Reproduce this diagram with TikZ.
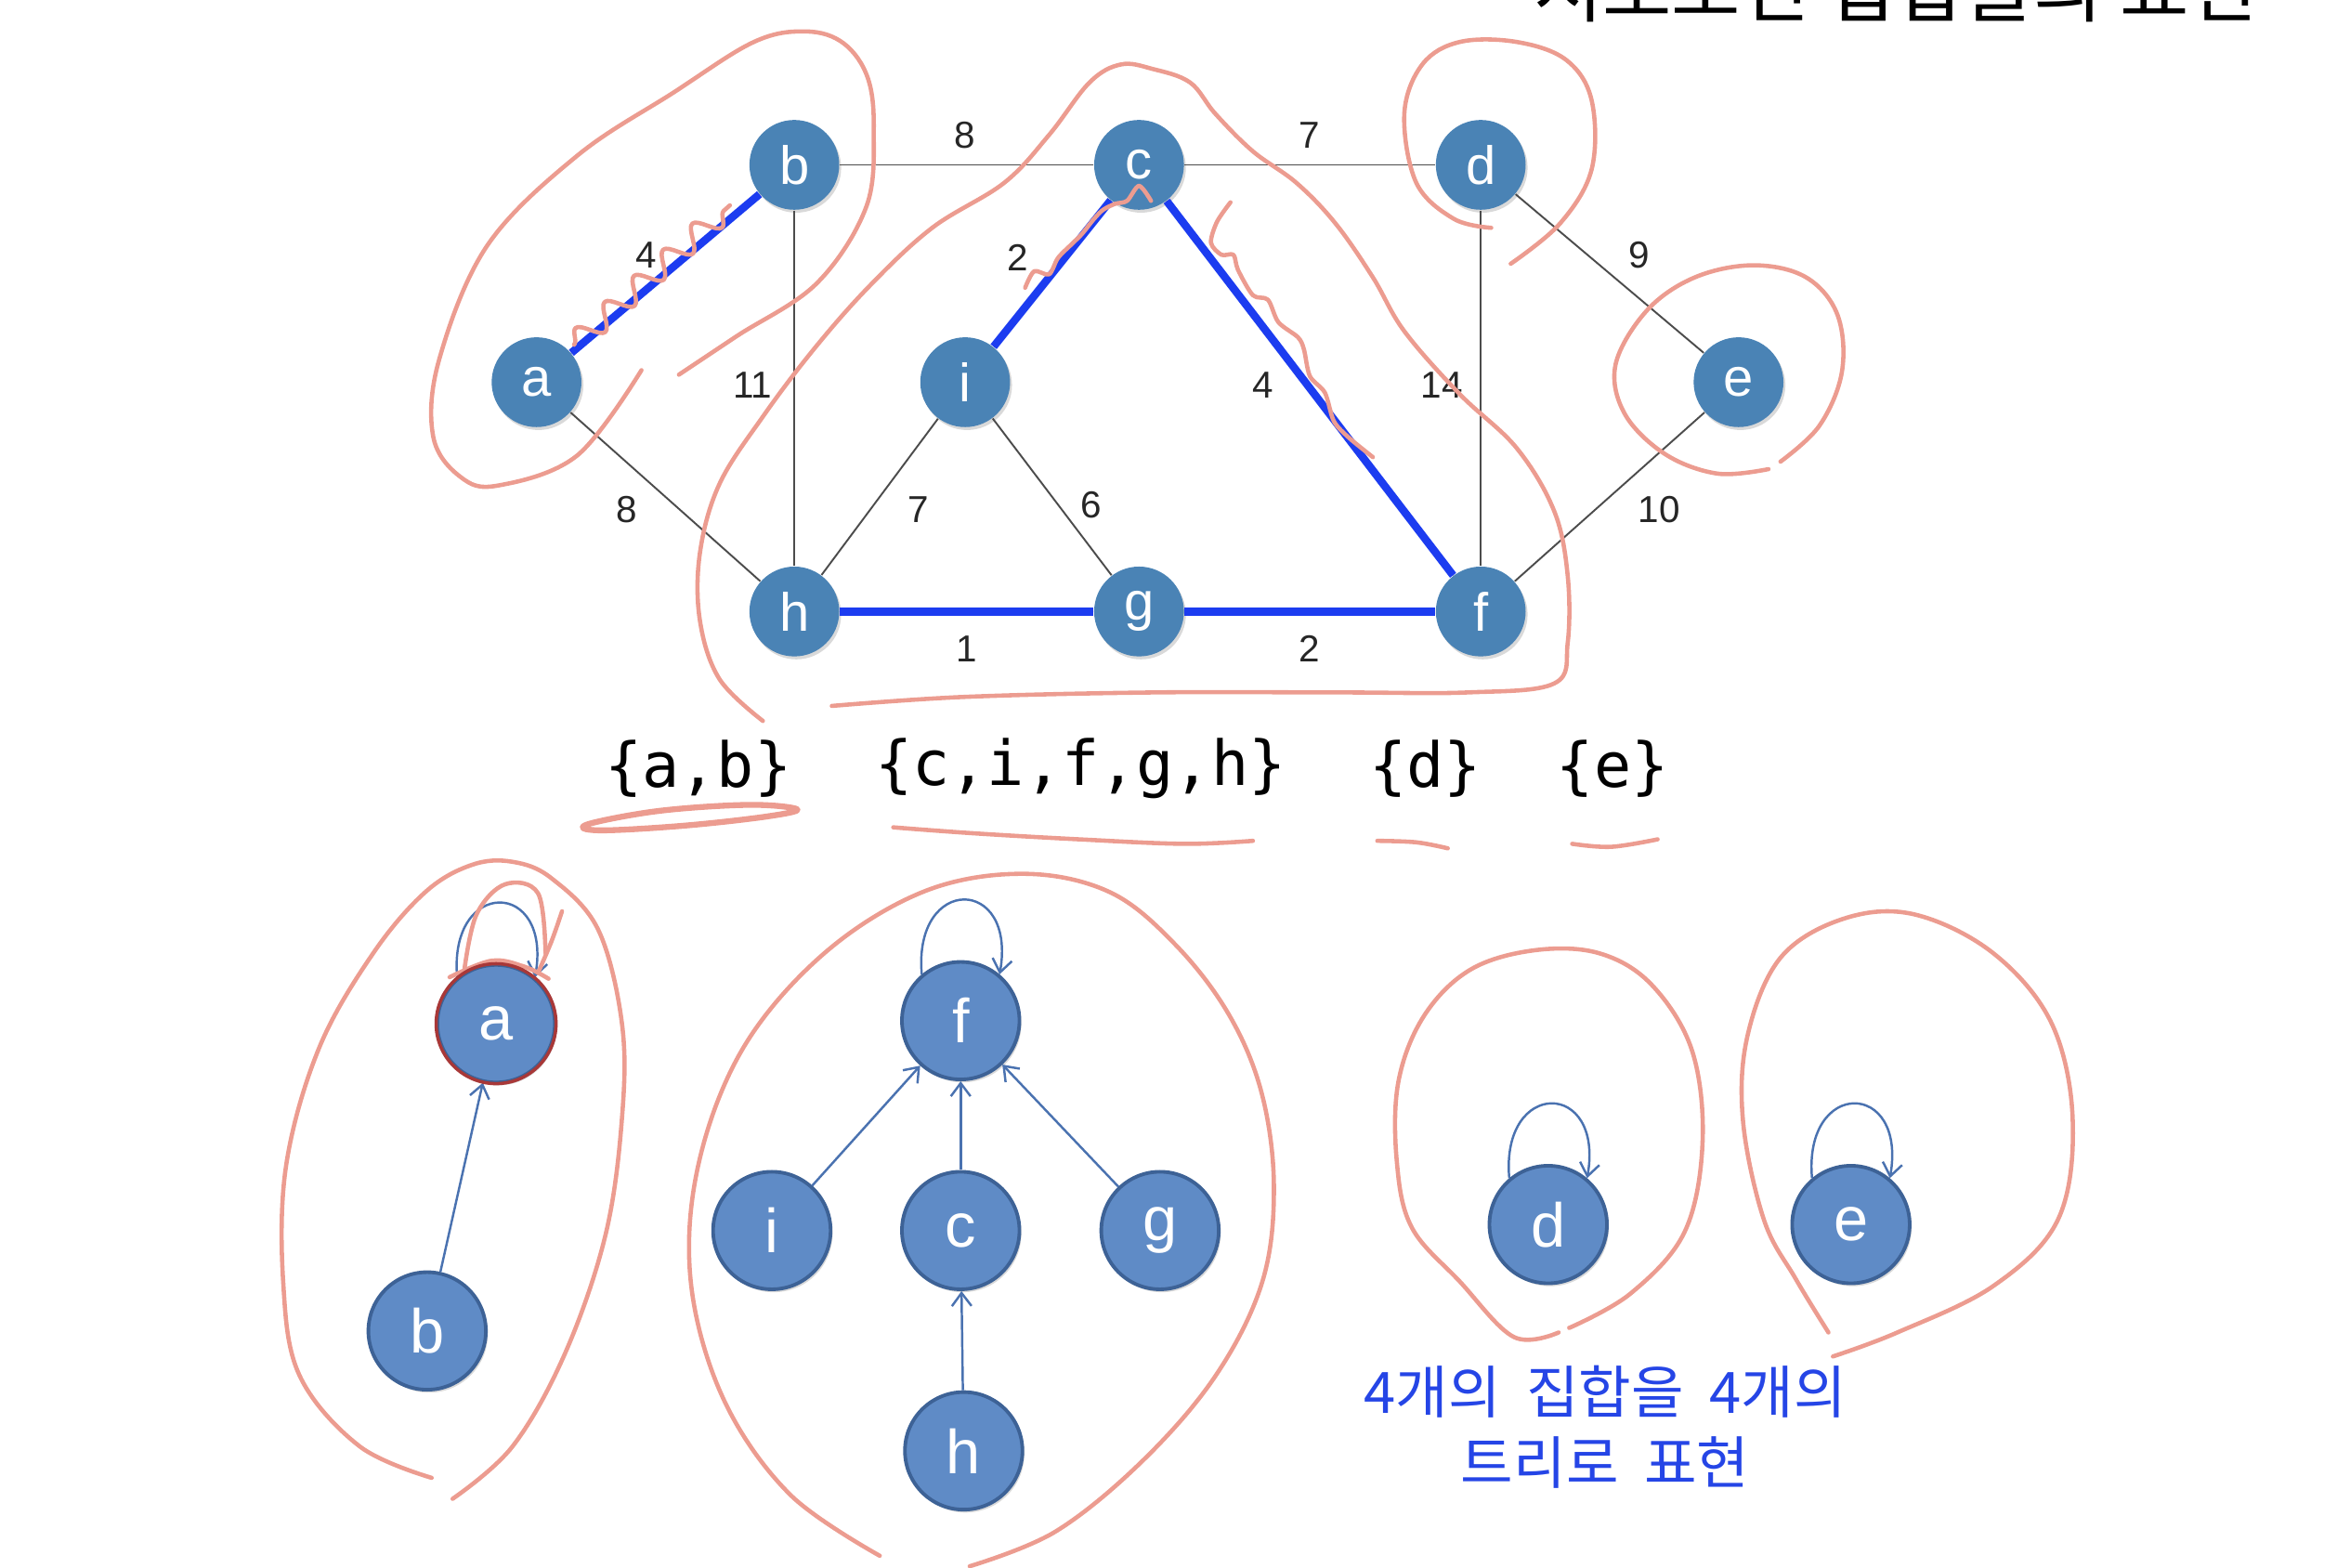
\documentclass[tikz,border=0pt]{standalone}
\usepackage{fontspec}
\setmainfont{Liberation Sans}
\newfontfamily\setfont{DejaVu Sans Mono}
\newfontfamily\krfont{Noto Sans CJK KR}
\usepackage{tikz}
\usetikzlibrary{arrows.meta,shadows,decorations.pathmorphing}
\definecolor{vtx}{HTML}{4A83B5}
\definecolor{tvtx}{HTML}{5F8BC6}
\definecolor{tline}{HTML}{3D6296}
\definecolor{tarc}{HTML}{4A72B0}
\definecolor{mst}{HTML}{1C3CF0}
\definecolor{pen}{HTML}{EC9C90}
\definecolor{scrib}{HTML}{A83838}
\definecolor{note}{HTML}{2545E6}
\tikzset{v/.style={circle,fill=vtx,text=white,minimum size=27.5pt,inner sep=0pt,
   font=\fontsize{16.5}{18}\selectfont,drop shadow={shadow xshift=.6pt,shadow yshift=-.9pt,opacity=.3}},
  tv/.style={circle,fill=tvtx,draw=tline,line width=1.1pt,text=white,minimum size=36pt,inner sep=0pt,
   font=\fontsize{19}{21}\selectfont,drop shadow={shadow xshift=.6pt,shadow yshift=-.9pt,opacity=.3}},
  wire/.style={draw=black!70,line width=.55pt},
  mstedge/.style={draw=mst,line width=2.4pt},
  lbl/.style={font=\fontsize{11.5}{13}\selectfont,text=black!85,inner sep=1pt},
  tarrow/.style={draw=tarc,line width=.7pt,-{Straight Barb[length=4pt,width=6pt]}},
  setlbl/.style={font=\setfont\fontsize{19}{22}\selectfont,inner sep=0pt},
  pen/.style={draw=pen,line width=1.3pt,line cap=round,line join=round}}

\begin{document}
\begin{tikzpicture}[x=.16135mm,y=.16135mm]
\useasboundingbox (0,0) rectangle (1568,-1046);
\node[font=\krfont\fontsize{23}{26}\selectfont,anchor=base] (ttl) at (1265,-11) {서로소인 집합들의 표현};
\foreach \n/\x/\y in {a/358/255,b/530/110,c/760/110,d/988/110,i/644/255,e/1160/255,h/530/408,g/760/408,f/988/408}
  \node[v] (\n) at (\x,-\y) {\n};
\foreach \u/\v/\w/\lx/\ly in {a/b/4/431/170,b/c/8/644/90,c/d/7/874/90,i/c/2/679/172,b/h/11/502/257,
  c/f/4/843/257,d/f/14/962/257,d/e/9/1094/170,a/h/8/418/340,i/h/7/613/340,i/g/6/728/337,
  e/f/10/1107/340,h/g/1/645/433,g/f/2/874/433}{
  \draw[wire] (\u) -- (\v);
  \node[lbl] (w\u\v) at (\lx,-\ly) {\w};
}
\foreach \u/\v in {a/b,i/c,c/f,h/g,g/f}
  \draw[mstedge] (\u) -- (\v);
\node[setlbl] (sab) at (466,-513) {\{a,b\}};
\node[setlbl] (scf) at (721,-513) {\{c,i,f,g,h\}};
\node[setlbl] (sd) at (951,-513) {\{d\}};
\node[setlbl] (se) at (1076,-513) {\{e\}};
\foreach \n/\x/\y in {a/331/683,b/285/888,f/641/681,i/515/821,c/641/821,g/774/821,h/643/968,d/1033/817,e/1235/817}
  \node[tv] (t\n) at (\x,-\y) {\n};
\foreach \u/\v in {b/a,i/f,c/f,g/f,h/c}
  \draw[tarrow] (t\u) -- (t\v);
\foreach \n in {a,f,d,e}
  \draw[tarrow] (t\n.130) to[out=95,in=80,looseness=3.3] (t\n.50);
\node[font=\krfont\fontsize{17.5}{21.5}\selectfont,text=note,align=center] (kr) at (1071,-952)
  {4개의\ \ 집합을\ \ 4개의\\트리로\ \ 표현};
\begin{scope}[yscale=-1]
\draw[pen] plot[smooth,tension=.6] coordinates {(453,250) (492,224) (545,189) (578,138) (583,87) (579,52)
  (563,29) (538,21) (503,28) (449,62) (385,104) (325,164) (293,240) (289,291) (307,318) (332,324) (385,304) (428,247)};
\draw[pen] plot[smooth,tension=.6] coordinates {(555,471) (643,465) (769,462) (895,462) (979,462) (1037,456)
  (1046,429) (1046,384) (1037,341) (1012,299) (974,263) (937,221) (916,185) (891,149) (865,122) (836,101)
  (811,76) (794,55) (769,46) (748,43) (727,55) (700,90) (670,122) (622,152) (580,191) (543,233) (509,278)
  (480,323) (467,369) (467,414) (480,453) (509,481)};
\draw[pen] plot[smooth,tension=.6] coordinates {(1008,176) (1041,149) (1062,113) (1062,67) (1045,40) (1012,28)
  (974,28) (949,43) (937,76) (945,122) (970,146) (995,152)};
\draw[pen] plot[smooth,tension=.6] coordinates {(1188,308) (1214,284) (1229,248) (1226,210) (1205,185) (1170,177)
  (1131,185) (1099,207) (1078,243) (1084,276) (1111,303) (1146,316) (1180,313)};
\draw[pen,decorate,decoration={snake,segment length=12pt,amplitude=3.5pt}] (383,230) -- (487,137);
\draw[pen] plot[smooth,tension=.5] coordinates {(684,192) (690,181) (700,183) (706,172) (716,162) (722,156)
  (730,146) (736,140) (744,136) (752,134) (760,124) (768,134)};
\draw[pen] plot[smooth,tension=.5] coordinates {(821,135) (812,148) (808,162) (815,170) (823,170) (826,180)
  (836,197) (846,200) (853,215) (866,225) (870,233) (874,251) (884,262) (890,281) (900,292) (916,305)};
\draw[pen,line width=1.8pt] plot[smooth cycle,tension=.6] coordinates {(392,550) (440,541) (500,537) (532,540)
  (510,545) (455,551) (400,554)};
\draw[pen] plot[smooth,tension=.6] coordinates {(596,552) (650,556) (720,560) (790,563) (836,561)};
\draw[pen] plot[smooth,tension=.6] coordinates {(919,561) (945,562) (966,566)};
\draw[pen] plot[smooth,tension=.6] coordinates {(1049,563) (1075,565) (1106,560)};
\draw[pen] plot[smooth,tension=.6] coordinates {(288,986) (240,965) (200,918) (189,856) (191,777) (213,699)
  (249,636) (284,595) (315,577) (342,575) (368,586) (399,620) (415,683) (415,746) (404,824) (377,903)
  (342,965) (302,1000)};
\draw[pen] plot[smooth,tension=.6] coordinates {(587,1038) (527,997) (483,934) (461,856) (466,777) (496,699)
  (550,636) (616,595) (682,583) (740,595) (784,630) (820,677) (842,730) (850,793) (842,856) (811,918)
  (762,975) (704,1022) (647,1045)};
\draw[pen] plot[smooth,tension=.6] coordinates {(1047,886) (1088,863) (1124,822) (1136,762) (1129,701)
  (1102,657) (1067,636) (1024,634) (981,647) (950,678) (933,722) (932,775) (942,819) (974,855) (1010,892) (1040,889)};
\draw[pen] plot[smooth,tension=.6] coordinates {(1223,905) (1266,889) (1330,858) (1373,814) (1383,748)
  (1369,683) (1330,636) (1277,610) (1230,613) (1188,639) (1166,691) (1163,748) (1177,814) (1198,853) (1220,889)};
\draw[pen] plot[smooth,tension=.6] coordinates {(310,646) (318,610) (337,590) (359,596) (364,636)};
\draw[pen] plot[smooth,tension=.6] coordinates {(375,608) (368,628) (359,649)};
\draw[pen] plot[smooth,tension=.6] coordinates {(300,652) (328,641) (350,645) (366,653)};
\end{scope}
\draw[scrib,line width=1pt] (ta) circle[radius=40];
\end{tikzpicture}
\end{document}
